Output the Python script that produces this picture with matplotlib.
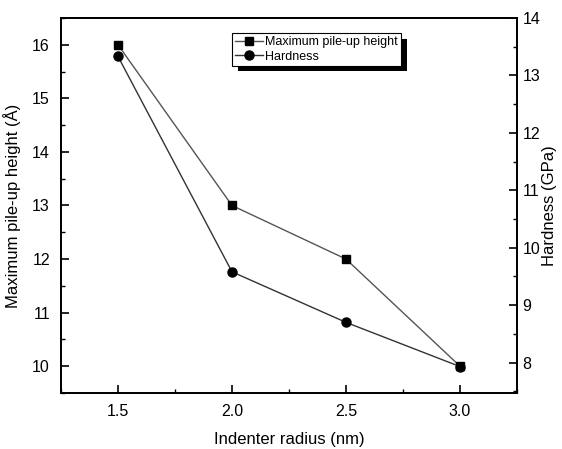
import numpy as np
import matplotlib.pyplot as plt
from matplotlib.ticker import MultipleLocator
import matplotlib.patheffects as pe

plt.rcParams['font.family'] = ['Liberation Sans', 'DejaVu Sans']

# data
radius = [1.5, 2.0, 2.5, 3.0]
pileup = [16.0, 13.0, 12.0, 10.0]
hardness = [13.33, 9.58, 8.70, 7.93]

fig = plt.figure(figsize=(5.62, 4.49), dpi=100)
ax = fig.add_axes([61 / 562, 1 - 393 / 449, 456 / 562, 375 / 449])
ax2 = ax.twinx()

l1, = ax.plot(radius, pileup, color='#555555', lw=1.0, marker='s', ms=5.5,
              mfc='black', mec='black', label='Maximum pile-up height')
l2, = ax2.plot(radius, hardness, color='#333333', lw=1.0, marker='o', ms=6.5,
               mfc='black', mec='black', label='Hardness')

ax.set_xlim(1.25, 3.25)
ax.set_ylim(9.5, 16.5)
ax2.set_ylim(7.47, 14.0)

ax.xaxis.set_major_locator(MultipleLocator(0.5))
ax.xaxis.set_minor_locator(MultipleLocator(0.25))
ax.yaxis.set_major_locator(MultipleLocator(1))
ax.yaxis.set_minor_locator(MultipleLocator(0.5))
ax2.yaxis.set_major_locator(MultipleLocator(1))
ax2.yaxis.set_minor_locator(MultipleLocator(0.5))

ax.set_xticks(radius)
ax.set_xticklabels(['1.5', '2.0', '2.5', '3.0'])

for a in (ax, ax2):
    a.tick_params(which='major', direction='in', length=6, width=1.2, labelsize=11.5)
    a.tick_params(which='minor', direction='in', length=3, width=1.0)
    for s in a.spines.values():
        s.set_linewidth(1.3)
ax.tick_params(top=False, right=False, which='both', pad=8)
ax2.tick_params(top=False, left=False, which='both', pad=4)

ax.set_xlabel('Indenter radius (nm)', fontsize=12, labelpad=9)
ax.set_ylabel('Maximum pile-up height (Å)', fontsize=12, labelpad=8)
ax2.set_ylabel('Hardness (GPa)', fontsize=12, labelpad=1)

leg = ax.legend(handles=[l1, l2], loc='upper left', bbox_to_anchor=(0.375, 0.96),
                fontsize=9, frameon=True, fancybox=False, shadow=False, framealpha=1,
                handlelength=2.2, handletextpad=0.2, borderpad=0.25,
                labelspacing=0.2, borderaxespad=0)
frame = leg.get_frame()
frame.set_facecolor('white')
frame.set_edgecolor('black')
frame.set_linewidth(0.8)
frame.set_path_effects([pe.SimplePatchShadow(offset=(4, -4), shadow_rgbFace='black', alpha=1.0),
                        pe.Normal()])

fig.savefig('out.png', dpi=100)
